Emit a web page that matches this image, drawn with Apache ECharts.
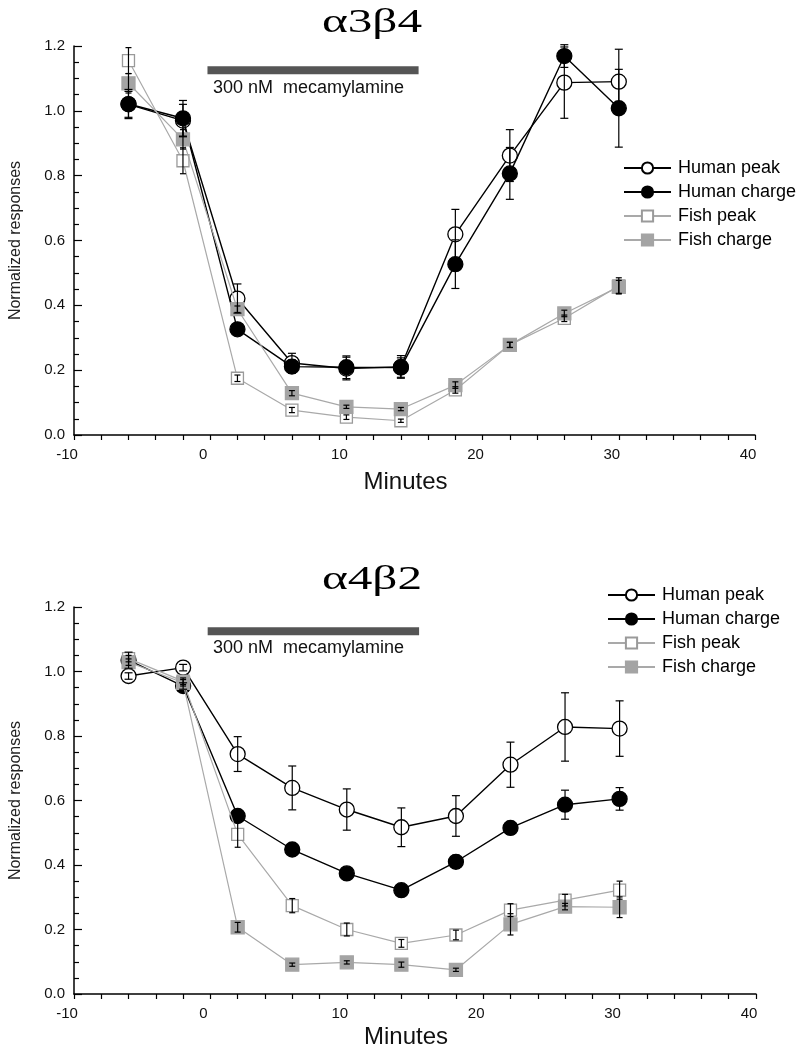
<!DOCTYPE html>
<html>
<head>
<meta charset="utf-8">
<script src="https://cdn.jsdelivr.net/npm/echarts@6/dist/echarts.min.js"></script>
<style>
  html, body { margin: 0; padding: 0; background: #fff; }
  #chart { width: 798px; height: 1050px; }
</style>
</head>
<body>
<div id="chart"></div>
<script>
// ---------- data ----------
const minutes = [-6, -2, 2, 6, 10, 14, 18, 22, 26, 30];
const seriesNames = ['Human peak', 'Human charge', 'Fish peak', 'Fish charge'];
const panelTitles = ['α3β4', 'α4β2'];
const drugLabel = '300 nM  mecamylamine';
const drugWindow = [-0.2, 15.3];
const drugLevel = 1.125;
const xTickLabels = [-10, 0, 10, 20, 30, 40];
const yTickLabels = [0.0, 0.2, 0.4, 0.6, 0.8, 1.0, 1.2];

// α3β4 panel
const a3b4HumanPeak    = [1.020, 0.970, 0.421, 0.222, 0.205, 0.210, 0.619, 0.862, 1.087, 1.090];
const a3b4HumanPeakErr = [0.040, 0.050, 0.045, 0.030, 0.035, 0.035, 0.077, 0.080, 0.110, 0.100];
const a3b4HumanCharge    = [1.021, 0.977, 0.326, 0.211, 0.209, 0.208, 0.527, 0.807, 1.169, 1.008];
const a3b4HumanChargeErr = [0.045, 0.055, 0.015, 0.020, 0.035, 0.030, 0.075, 0.080, 0.035, 0.120];
const a3b4FishPeak    = [1.155, 0.846, 0.175, 0.077, 0.055, 0.044, 0.139, 0.278, 0.360, 0.460];
const a3b4FishPeakErr = [0.040, 0.040, 0.010, 0.008, 0.007, 0.005, 0.010, 0.008, 0.010, 0.025];
const a3b4FishCharge    = [1.085, 0.912, 0.388, 0.129, 0.087, 0.080, 0.154, 0.278, 0.375, 0.457];
const a3b4FishChargeErr = [0.030, 0.030, 0.010, 0.008, 0.005, 0.005, 0.010, 0.008, 0.010, 0.020];

// α4β2 panel
const a4b2HumanPeak    = [0.986, 1.012, 0.744, 0.639, 0.572, 0.517, 0.552, 0.711, 0.828, 0.823];
const a4b2HumanPeakErr = [0.010, 0.010, 0.054, 0.068, 0.064, 0.060, 0.063, 0.070, 0.106, 0.086];
const a4b2HumanCharge    = [1.035, 0.955, 0.552, 0.448, 0.374, 0.322, 0.410, 0.515, 0.587, 0.605];
const a4b2HumanChargeErr = [0.025, 0.010, 0.010, 0.010, 0.010, 0.010, 0.020, 0.020, 0.045, 0.035];
const a4b2FishPeak    = [1.040, 0.970, 0.495, 0.274, 0.200, 0.157, 0.183, 0.260, 0.291, 0.322];
const a4b2FishPeakErr = [0.010, 0.010, 0.040, 0.022, 0.020, 0.012, 0.015, 0.020, 0.018, 0.028];
const a4b2FishCharge    = [1.029, 0.965, 0.207, 0.091, 0.098, 0.091, 0.075, 0.216, 0.271, 0.269];
const a4b2FishChargeErr = [0.010, 0.010, 0.015, 0.005, 0.005, 0.008, 0.005, 0.033, 0.010, 0.032];

// ---------- build ----------
const SANS = '"Liberation Sans", Arial, sans-serif';
const SERIF = '"Liberation Serif", "Times New Roman", serif';
const GRAY_LINE = '#a9a9a9';
const GRAY_FILL = '#a4a4a4';

const panels = [
  { vals: [a3b4HumanPeak, a3b4HumanCharge, a3b4FishPeak, a3b4FishCharge],
    errs: [a3b4HumanPeakErr, a3b4HumanChargeErr, a3b4FishPeakErr, a3b4FishChargeErr] },
  { vals: [a4b2HumanPeak, a4b2HumanCharge, a4b2FishPeak, a4b2FishCharge],
    errs: [a4b2HumanPeakErr, a4b2HumanChargeErr, a4b2FishPeakErr, a4b2FishChargeErr] }
];

const styles = [
  { symbol: 'circle', size: 15, fill: '#fff', border: '#000', line: '#000', lw: 1.4, cap: 4 },
  { symbol: 'circle', size: 15, fill: '#000', border: '#000', line: '#000', lw: 1.4, cap: 4 },
  { symbol: 'rect', size: 12, fill: '#fff', border: '#9a9a9a', line: GRAY_LINE, lw: 1.2, cap: 3 },
  { symbol: 'rect', size: 13, fill: GRAY_FILL, border: GRAY_FILL, line: GRAY_LINE, lw: 1.2, cap: 3 }
];

const grids = [
  { left: 73, right: 43, top: 46, height: 389 },
  { left: 73, right: 42, top: 607, height: 389 }
];

function errRender(cap) {
  return function (params, api) {
    const x = api.value(0), lo = api.value(1), hi = api.value(2);
    const a = api.coord([x, hi]);
    const b = api.coord([x, lo]);
    const st = { stroke: '#000', lineWidth: 1.2 };
    return {
      type: 'group',
      children: [
        { type: 'line', shape: { x1: a[0], y1: a[1], x2: b[0], y2: b[1] }, style: st },
        { type: 'line', shape: { x1: a[0] - cap, y1: a[1], x2: a[0] + cap, y2: a[1] }, style: st },
        { type: 'line', shape: { x1: b[0] - cap, y1: b[1], x2: b[0] + cap, y2: b[1] }, style: st }
      ]
    };
  };
}

const xAxes = [], yAxes = [], series = [], legends = [], graphics = [];

grids.forEach((g, gi) => {
  xAxes.push({
    type: 'value', gridIndex: gi, min: -10, max: 40, interval: 2,
    name: 'Minutes', nameLocation: 'middle', nameGap: gi === 0 ? 35 : 31,
    nameTextStyle: { fontFamily: SANS, fontSize: 24, color: '#111', padding: [0, 18, 0, 0] },
    axisLine: { onZero: false, lineStyle: { color: '#000', width: 1.5 } },
    axisTick: { show: true, inside: false, length: 5, lineStyle: { color: '#000', width: 1.2 } },
    axisLabel: {
      fontFamily: SANS, fontSize: 15, color: '#111', margin: 12, padding: [0, 14, 0, 0],
      formatter: v => (xTickLabels.indexOf(v) >= 0 ? String(v) : '')
    },
    splitLine: { show: false }
  });
  yAxes.push({
    type: 'value', gridIndex: gi, min: 0, max: 1.2, interval: 0.2,
    name: 'Normalized responses', nameLocation: 'middle', nameGap: 50,
    nameTextStyle: { fontFamily: SANS, fontSize: 16, color: '#222' },
    axisLine: { show: true, onZero: false, lineStyle: { color: '#000', width: 1.5 } },
    axisTick: { show: true, inside: true, length: 8, lineStyle: { color: '#000', width: 1.2 } },
    minorTick: { show: true, splitNumber: 4, length: 5, lineStyle: { color: '#000', width: 1.2 } },
    axisLabel: {
      fontFamily: SANS, fontSize: 15, color: '#111', margin: 9,
      formatter: v => (yTickLabels.some(t => Math.abs(t - v) < 1e-6) ? v.toFixed(1) : '')
    },
    splitLine: { show: false }
  });

  // drug application bar
  series.push({
    type: 'line', xAxisIndex: gi, yAxisIndex: gi, silent: true, symbol: 'none', z: 1,
    data: [[drugWindow[0], drugLevel], [drugWindow[1], drugLevel]],
    lineStyle: { color: '#555', width: 8, cap: 'butt' }
  });

  const p = panels[gi];
  seriesNames.forEach((name, si) => {
    const s = styles[si];
    series.push({
      name, type: 'line', xAxisIndex: gi, yAxisIndex: gi, z: 2 + si * 0.1,
      data: minutes.map((m, i) => [m, p.vals[si][i]]),
      symbol: s.symbol, symbolSize: s.size, showAllSymbol: true,
      lineStyle: { color: s.line, width: s.lw },
      itemStyle: { color: s.fill, borderColor: s.border, borderWidth: 1.3, opacity: 1 },
      emphasis: { disabled: true },
      animation: false
    });
  });
  seriesNames.forEach((name, si) => {
    series.push({
      type: 'custom', xAxisIndex: gi, yAxisIndex: gi, z: 3, silent: true,
      renderItem: errRender(styles[si].cap),
      data: minutes.map((m, i) => [m, p.vals[si][i] - p.errs[si][i], p.vals[si][i] + p.errs[si][i]]),
      animation: false
    });
  });

  legends.push({
    orient: 'vertical',
    left: gi === 0 ? 618 : 602,
    top: gi === 0 ? 153 : 580,
    itemWidth: 47, itemHeight: 14, itemGap: 4,
    data: seriesNames,
    textStyle: { fontFamily: SANS, fontSize: 18, color: '#000', lineHeight: 20, padding: [0, 0, 0, 2] },
    selectedMode: false
  });

  graphics.push({
    type: 'text', x: 372, y: gi === 0 ? 23 : 580, scaleX: 1.45, scaleY: 1,
    style: { text: panelTitles[gi], font: '34px ' + SERIF, fill: '#000',
             textAlign: 'center', textVerticalAlign: 'middle' }
  });
  graphics.push({
    type: 'text', x: 213, y: gi === 0 ? 88 : 648,
    style: { text: drugLabel, font: '18px ' + SANS, fill: '#111',
             textAlign: 'left', textVerticalAlign: 'middle' }
  });
});

const chart = echarts.init(document.getElementById('chart'), null, { renderer: 'canvas' });
chart.setOption({
  backgroundColor: '#fff',
  animation: false,
  grid: grids,
  xAxis: xAxes,
  yAxis: yAxes,
  legend: legends,
  series: series,
  graphic: graphics
});
</script>
</body>
</html>
